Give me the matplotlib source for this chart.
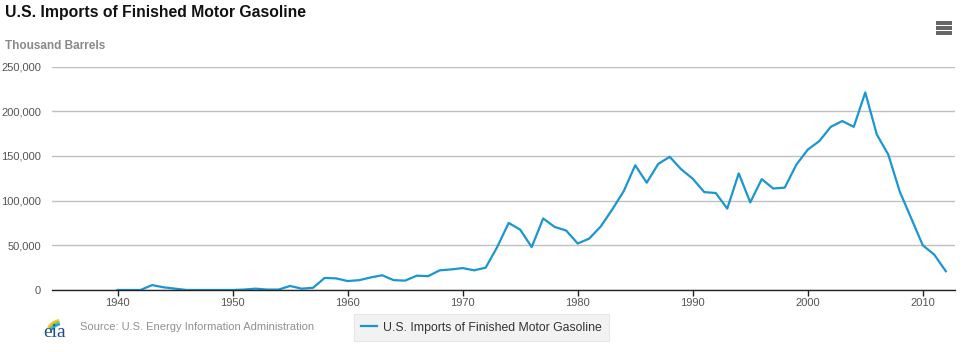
"""U.S. imports of finished motor gasoline, annual (EIA-style line chart)."""

import matplotlib

matplotlib.use("Agg")

import matplotlib.pyplot as plt
from matplotlib.patches import Arc, Rectangle
from matplotlib.ticker import FuncFormatter

# annual values, thousand barrels
years = list(range(1940, 2013))
imports = [
    0, 0, 0, 5500, 3000, 1500, 0, 0, 0, 0,  # 1940s
    0, 500, 1500, 500, 500, 4500, 1500, 2500, 13500, 13000,  # 1950s
    10000, 11000, 14000, 16500, 11000, 10500, 16000, 15500, 22000, 23000,  # 1960s
    24500, 22000, 25000, 48000, 75000, 67500, 48000, 80000, 70500, 66500,  # 1970s
    52000, 57500, 71000, 90000, 110500, 139500, 120000, 141000, 149000, 135000,  # 1980s
    124500, 109500, 108500, 91000, 130500, 98000, 124000, 113500, 114500, 140000,  # 1990s
    157000, 166500, 182500, 189000, 182500, 221000, 174000, 151500, 110000, 80000,  # 2000s
    50000, 39500, 21000,
]
x_ticks = [1940, 1950, 1960, 1970, 1980, 1990, 2000, 2010]
y_ticks = [0, 50000, 100000, 150000, 200000, 250000]

TITLE = "U.S. Imports of Finished Motor Gasoline"
UNITS = "Thousand Barrels"
SOURCE = "Source: U.S. Energy Information Administration"
SERIES = "U.S. Imports of Finished Motor Gasoline"

W, H = 964, 352
LINE_BLUE = "#1a96d0"
FONT = "Liberation Sans"


def fx(px):
    return px / W


def fy(py):
    return 1 - py / H


def draw_logo(fig):
    # small axes measured in pixels: 1 unit = 1 px
    lax = fig.add_axes([fx(40), fy(342), fx(30), 30 / H])
    lax.set_xlim(0, 30)
    lax.set_ylim(0, 30)
    lax.axis("off")
    lax.text(3, 5, "eia", family="Liberation Serif", fontsize=14, color="#1f4e8c")
    for r, c in [(16, "#f2c230"), (14, "#8cc63f"), (12, "#2aa7df")]:
        lax.add_patch(Arc((22, 6), 2 * r, 2 * r, theta1=100, theta2=150, color=c, lw=1.8))


def draw_menu(fig):
    for py in (23, 28, 33):
        fig.patches.append(
            Rectangle((fx(936), fy(py + 1.5)), fx(16), 3 / H, transform=fig.transFigure,
                      facecolor="#666666", edgecolor="none")
        )


def main():
    plt.rcParams["font.family"] = [FONT, "DejaVu Sans"]
    fig = plt.figure(figsize=(W / 100, H / 100), dpi=100)
    ax = fig.add_axes([fx(52), fy(290), fx(955 - 52), (290 - 66.5) / H])

    (line,) = ax.plot(years, imports, color=LINE_BLUE, lw=1.6, solid_joinstyle="round",
                      label=SERIES, zorder=3)

    ax.set_xlim(1934.3, 2012.8)
    ax.set_ylim(0, 250000)
    ax.set_xticks(x_ticks)
    ax.set_yticks(y_ticks)
    ax.yaxis.set_major_formatter(FuncFormatter(lambda v, _: f"{int(v):,}"))
    ax.grid(axis="y", color="#c0c0c0", lw=1)
    ax.set_axisbelow(True)
    for s in ("top", "right", "left"):
        ax.spines[s].set_visible(False)
    ax.spines["bottom"].set_color("#222222")
    ax.spines["bottom"].set_linewidth(1)
    ax.spines["bottom"].set_zorder(4)
    ax.tick_params(axis="x", length=4, width=1, color="#222222", labelsize=8,
                   labelcolor="#555555", pad=2)
    ax.tick_params(axis="y", length=0, labelsize=8, labelcolor="#555555", pad=8)

    fig.text(fx(5), fy(12), TITLE, fontsize=11.3, fontweight="bold", color="#111111",
             va="center", ha="left")
    fig.text(fx(5), fy(46), UNITS, fontsize=8.5, fontweight="bold", color="#8a8a8a",
             va="center", ha="left")
    fig.text(fx(80), fy(327), SOURCE, fontsize=8, color="#909090", va="center", ha="left")

    leg = fig.legend(handles=[line], loc="center", bbox_to_anchor=(fx(481.5), fy(327.5)),
                     frameon=True, fancybox=False, fontsize=8.8, handlelength=1.3,
                     handletextpad=0.5, borderpad=0.6, borderaxespad=0)
    leg.get_frame().set_facecolor("#efefef")
    leg.get_frame().set_edgecolor("#e2e2e2")
    leg.get_frame().set_linewidth(0.8)
    for t in leg.get_texts():
        t.set_color("#333333")

    draw_logo(fig)
    draw_menu(fig)

    fig.savefig("out.png", dpi=100)
    plt.close(fig)


if __name__ == "__main__":
    main()
